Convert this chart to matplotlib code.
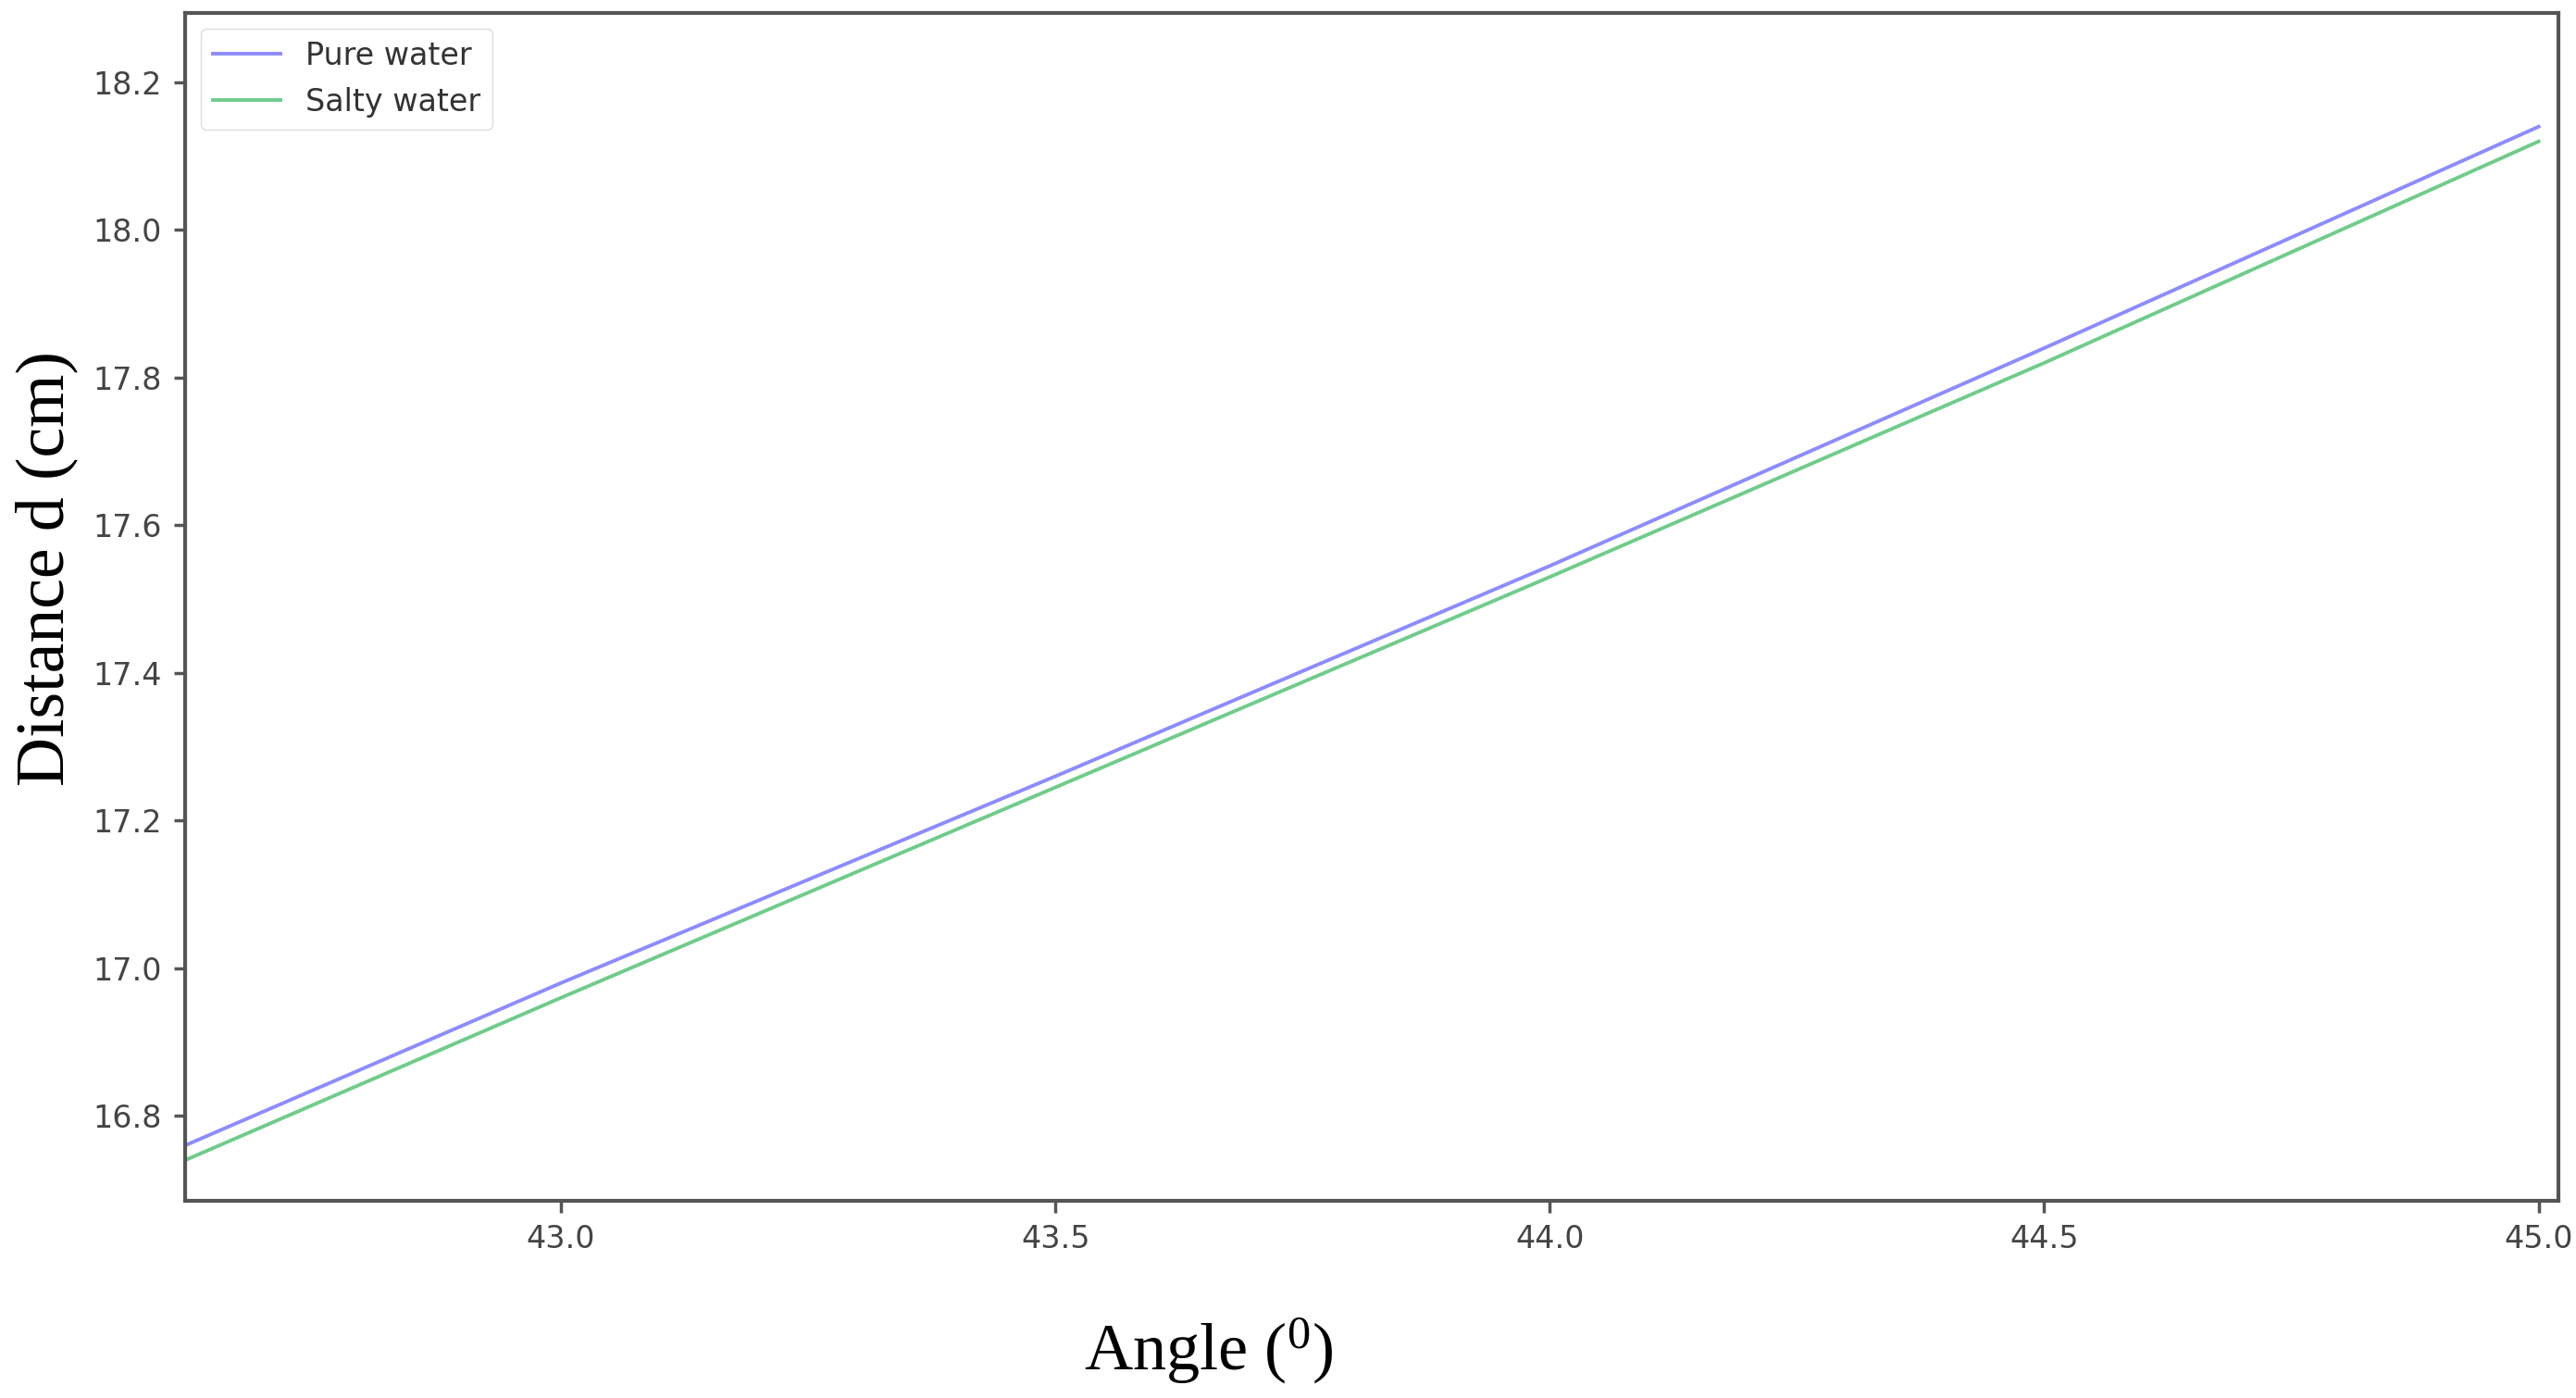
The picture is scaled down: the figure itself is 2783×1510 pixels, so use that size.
import numpy as np
import matplotlib.pyplot as plt

angle = [42.62, 43.0, 43.5, 44.0, 44.5, 45.0]
pure_water = [16.76, 16.98, 17.26, 17.545, 17.84, 18.14]
salty_water = [16.74, 16.96, 17.245, 17.53, 17.82, 18.12]

yticks = [16.8, 17.0, 17.2, 17.4, 17.6, 17.8, 18.0, 18.2]
xticks = [43.0, 43.5, 44.0, 44.5, 45.0]

serif = ['Liberation Serif', 'DejaVu Serif']
plt.rcParams['mathtext.fontset'] = 'custom'
plt.rcParams['mathtext.rm'] = 'Liberation Serif'

fig = plt.figure(figsize=(27.83, 15.10), dpi=100)
ax = fig.add_axes([200 / 2783, 1 - 1297 / 1510, (2764 - 200) / 2783, (1297 - 14) / 1510])

ax.plot(angle, pure_water, color='#8c8cff', lw=2.8, label='Pure water')
ax.plot(angle, salty_water, color='#6fcc8a', lw=2.8, label='Salty water')

ax.set_xlim(42.62, 45.02)
ax.set_ylim(16.685, 18.294)
ax.set_xticks(xticks)
ax.set_yticks(yticks)
ax.tick_params(labelsize=24, labelcolor='#444444', length=9, width=2.5, color='#555555', pad=9)
for s in ax.spines.values():
    s.set_linewidth(3)
    s.set_color('#555555')

fig.text(1306 / 2783, 1 - 1459 / 1510, r'Angle ($\mathrm{^{0}}$)', family=serif,
         fontsize=52, ha='center', va='center')
fig.text(50 / 2783, 1 - 614 / 1510, 'Distance d (cm)', family=serif,
         fontsize=53, ha='center', va='center', rotation=90)

ax.legend(loc='upper left', fontsize=24, handlelength=2.2, framealpha=1,
          edgecolor='#dddddd', labelcolor='#333333')

fig.savefig('out.png', dpi=100, facecolor='white')
